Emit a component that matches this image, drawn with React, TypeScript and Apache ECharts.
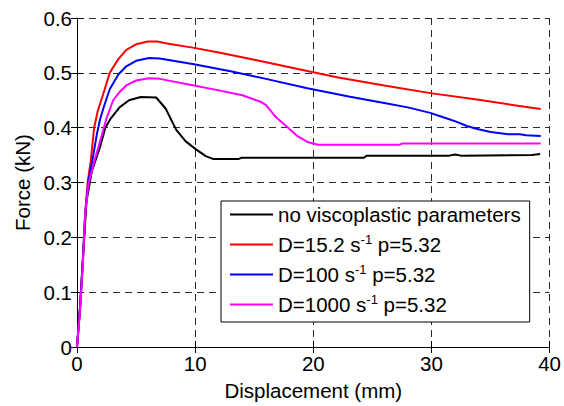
import React, { useEffect, useRef } from "react";
import * as echarts from "echarts";

const seriesNames = [
  "no viscoplastic parameters",
  "D=15.2 s-1 p=5.32",
  "D=100 s-1 p=5.32",
  "D=1000 s-1 p=5.32",
];
const seriesColors = ["#000000", "#ff0000", "#0000ff", "#ff00ff"];

const xTicks = [0, 10, 20, 30, 40];
const yTicks = [0, 0.1, 0.2, 0.3, 0.4, 0.5, 0.6];

const noVisco: [number, number][] = [
  [0, 0], [0.25, 0.07], [0.5, 0.16], [0.8, 0.265], [1.25, 0.32], [1.95, 0.365],
  [2.4, 0.4], [2.8, 0.415], [3.6, 0.437], [4.4, 0.45], [5.4, 0.456], [6.7, 0.455],
  [7.5, 0.435], [8.4, 0.396], [9.2, 0.375], [10.1, 0.36], [10.9, 0.348], [11.5, 0.343],
  [13.7, 0.343], [13.9, 0.345], [24.3, 0.345], [24.5, 0.349], [31.5, 0.349],
  [32, 0.351], [32.5, 0.349], [38.5, 0.35], [39.2, 0.352],
];
const d15: [number, number][] = [
  [0, 0], [0.25, 0.07], [0.5, 0.16], [0.7, 0.245], [0.9, 0.3], [1.17, 0.34],
  [1.45, 0.4], [1.75, 0.43], [2.2, 0.46], [2.77, 0.5], [3.5, 0.525], [4.17, 0.542],
  [5, 0.552], [6.0, 0.557], [6.8, 0.557], [7.5, 0.554], [9.9, 0.5455], [12, 0.537],
  [15, 0.524], [18.7, 0.507], [22, 0.492], [26, 0.477], [29.9, 0.463], [34, 0.451],
  [37, 0.441], [39.25, 0.434],
];
const d100: [number, number][] = [
  [0, 0], [0.25, 0.07], [0.5, 0.16], [0.7, 0.245], [0.95, 0.3], [1.3, 0.34],
  [1.7, 0.39], [1.95, 0.415], [2.3, 0.44], [2.77, 0.47], [3.5, 0.497], [4.17, 0.512],
  [5, 0.522], [6.1, 0.527], [7, 0.526], [9.9, 0.5155], [13, 0.503], [16, 0.489],
  [19.5, 0.472], [23, 0.457], [26, 0.445], [28, 0.437], [29.9, 0.427], [31, 0.419],
  [32.1, 0.411], [33, 0.403], [33.8, 0.398], [35, 0.392], [36.5, 0.388], [37.5, 0.388],
  [38, 0.386], [39.25, 0.385],
];
const d1000: [number, number][] = [
  [0, 0], [0.27, 0.069], [0.5, 0.153], [0.69, 0.243], [0.97, 0.297], [1.39, 0.333],
  [1.95, 0.375], [2.5, 0.417], [3.06, 0.45], [3.6, 0.465], [4.17, 0.477], [5, 0.486],
  [6.1, 0.49], [7, 0.489], [9.9, 0.477], [12, 0.468], [14, 0.459], [15.6, 0.4467],
  [16.0, 0.441], [16.8, 0.42], [17.6, 0.405], [18.7, 0.384], [19.5, 0.374],
  [20.4, 0.369], [27.3, 0.369], [27.5, 0.371], [33.8, 0.371], [39.25, 0.371],
];
const seriesData = [noVisco, d15, d100, d1000];

const FONT = "'Liberation Sans', Arial, Helvetica, sans-serif";
const FS = 20.5;

export default function App() {
  const ref = useRef<HTMLDivElement>(null);
  useEffect(() => {
    if (!ref.current) return;
    const chart = echarts.init(ref.current, undefined, { renderer: "svg" });
    const axisCommon = {
      type: "value" as const,
      axisLine: { show: true, onZero: false, lineStyle: { color: "#000", width: 1 } },
      axisTick: { show: true, inside: true, length: 6, lineStyle: { color: "#000" } },
    };
    const gridLine = { show: true, lineStyle: { color: "#2a2a2a", type: [7, 5], width: 1 } };
    chart.setOption({
      animation: false,
      backgroundColor: "#ffffff",
      textStyle: { fontFamily: FONT },
      grid: { left: 77, right: 10, top: 18, bottom: 54.5, containLabel: false },
      xAxis: [
        {
          ...axisCommon,
          min: xTicks[0],
          max: xTicks[xTicks.length - 1],
          interval: 10,
          position: "bottom",
          name: "Displacement (mm)",
          nameLocation: "middle",
          nameGap: 33,
          nameTextStyle: { color: "#000", fontSize: FS, fontFamily: FONT },
          axisLabel: { color: "#000", fontSize: FS, fontFamily: FONT, margin: 6 },
          splitLine: gridLine,
        },
        {
          ...axisCommon,
          min: xTicks[0],
          max: xTicks[xTicks.length - 1],
          interval: 10,
          position: "top",
          axisLine: { show: false },
          axisLabel: { show: false },
          splitLine: { show: false },
        },
      ],
      yAxis: [
        {
          ...axisCommon,
          min: yTicks[0],
          max: yTicks[yTicks.length - 1],
          interval: 0.1,
          position: "left",
          name: "Force (kN)",
          nameLocation: "middle",
          nameGap: 41,
          nameTextStyle: { color: "#000", fontSize: FS, fontFamily: FONT },
          axisLabel: {
            color: "#000",
            fontSize: FS,
            fontFamily: FONT,
            margin: 5,
            formatter: (v: number) => (v === 0 ? "0" : v.toFixed(1)),
          },
          splitLine: gridLine,
        },
        {
          ...axisCommon,
          min: yTicks[0],
          max: yTicks[yTicks.length - 1],
          interval: 0.1,
          position: "right",
          axisLine: { show: false },
          axisLabel: { show: false },
          splitLine: { show: false },
        },
      ],
      legend: {
        left: 221,
        top: 201,
        orient: "vertical",
        backgroundColor: "#ffffff",
        borderColor: "#000",
        borderWidth: 1,
        borderRadius: 0,
        padding: [3, 9, 7, 9],
        itemGap: 7.5,
        itemWidth: 43,
        itemHeight: 2,
        icon: "rect",
        selectedMode: false,
        data: seriesNames,
        formatter: (name: string) => {
          const m = name.match(/^(D=[\d.]+ s)-1( p=[\d.]+)$/);
          if (m) return `{t|${m[1]}}{sup|-1}{t|${m[2]}}`;
          return `{t|${name}}`;
        },
        textStyle: {
          color: "#000",
          fontFamily: FONT,
          fontSize: FS,
          rich: {
            t: { fontSize: FS, fontFamily: FONT, color: "#000", lineHeight: 24 },
            sup: {
              fontSize: 13,
              fontFamily: FONT,
              color: "#000",
              verticalAlign: "top",
              lineHeight: 16,
            },
          },
        },
      },
      series: seriesNames.map((name, i) => ({
        name,
        type: "line",
        xAxisIndex: 0,
        yAxisIndex: 0,
        data: seriesData[i],
        showSymbol: false,
        symbol: "none",
        color: seriesColors[i],
        lineStyle: { color: seriesColors[i], width: 2 },
        itemStyle: { color: seriesColors[i] },
        z: 2 + i,
      })),
    });
    return () => chart.dispose();
  }, []);
  return (
    <div
      ref={ref}
      style={{ position: "fixed", left: 0, top: 0, width: 564, height: 406, background: "#fff" }}
    />
  );
}
